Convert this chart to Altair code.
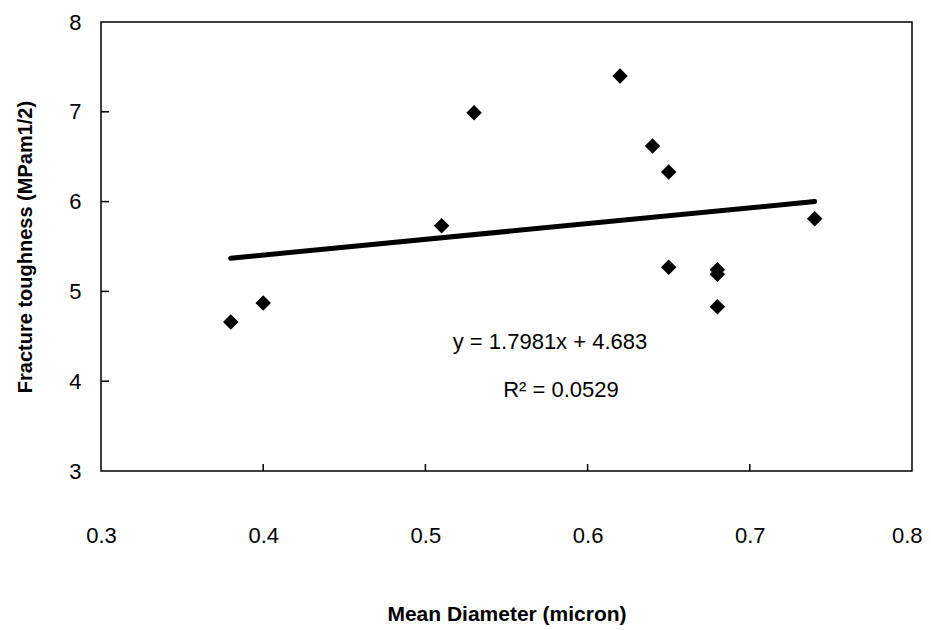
import altair as alt
import pandas as pd

# data
diameter = [0.38, 0.40, 0.51, 0.53, 0.62, 0.64, 0.65, 0.65, 0.68, 0.68, 0.68, 0.74]
toughness = [4.66, 4.87, 5.73, 6.99, 7.40, 6.62, 6.33, 5.27, 5.24, 5.19, 4.83, 5.81]

trend_x = [0.38, 0.74]
trend_y = [5.37, 6.00]

x_ticks = [0.3, 0.4, 0.5, 0.6, 0.7, 0.8]
y_ticks = [3, 4, 5, 6, 7, 8]
x_inner_ticks = [0.4, 0.5, 0.6, 0.7]
y_inner_ticks = [4, 5, 6, 7]

equation_text = "y = 1.7981x + 4.683"
r2_text = "R\u00b2 = 0.0529"

W, H = 811, 449
FONT = "Liberation Sans"

pts = pd.DataFrame({"d": diameter, "t": toughness})
trend = pd.DataFrame({"d": trend_x, "t": trend_y})

xscale = alt.Scale(domain=[0.3, 0.8], nice=False, zero=False)
yscale = alt.Scale(domain=[3, 8], nice=False, zero=False)

xaxis = alt.Axis(
    values=x_ticks, format=".1f", title="Mean Diameter (micron)",
    grid=False, domain=False, ticks=False, tickSize=0,
    labelFlush=False, labelOverlap=False, labelBound=False,
    labelAlign={"expr": "datum.value >= 0.79 ? 'right' : 'center'"},
    labelOffset={"expr": "datum.value >= 0.79 ? 10 : 0"},
    labelPadding=54, labelFontSize=22, labelFont=FONT, labelColor="black",
    titleFontSize=21, titleFont=FONT, titleFontWeight="bold", titleColor="black",
    titleY=143, titleBaseline="middle",
)
yaxis = alt.Axis(
    values=y_ticks, format="d", title="Fracture toughness (MPam1/2)",
    grid=False, domain=False, ticks=False, tickSize=0,
    labelFlush=False, labelOverlap=False,
    labelPadding=20, labelFontSize=22, labelFont=FONT, labelColor="black",
    titleFontSize=20, titleFont=FONT, titleFontWeight="bold", titleColor="black",
    titleX=-76, titleBaseline="middle",
)

points = alt.Chart(pts).mark_point(
    shape="diamond", filled=True, color="black", opacity=1, size=240
).encode(
    x=alt.X("d:Q", scale=xscale, axis=xaxis),
    y=alt.Y("t:Q", scale=yscale, axis=yaxis),
)

line = alt.Chart(trend).mark_line(color="black", strokeWidth=5, strokeCap="round").encode(
    x=alt.X("d:Q", scale=xscale),
    y=alt.Y("t:Q", scale=yscale),
)

xt = alt.Chart(pd.DataFrame({"v": x_inner_ticks})).mark_rule(color="black", strokeWidth=1.5).encode(
    x=alt.X("v:Q", scale=xscale),
    y=alt.value(H),
    y2=alt.value(H - 7),
)
yt = alt.Chart(pd.DataFrame({"v": y_inner_ticks})).mark_rule(color="black", strokeWidth=1.5).encode(
    y=alt.Y("v:Q", scale=yscale),
    x=alt.value(0),
    x2=alt.value(8),
)

eq = alt.Chart(pd.DataFrame({"s": [equation_text]})).mark_text(
    font=FONT, fontSize=22, color="black", align="center", baseline="middle"
).encode(text="s:N", x=alt.value(449), y=alt.value(320))

r2 = alt.Chart(pd.DataFrame({"s": [r2_text]})).mark_text(
    font=FONT, fontSize=22, color="black", align="center", baseline="middle"
).encode(text="s:N", x=alt.value(460), y=alt.value(368))

chart = alt.layer(xt, yt, line, points, eq, r2).properties(
    width=W, height=H,
    autosize=alt.AutoSizeParams(type="none"),
    padding={"left": 93, "top": 14, "right": 11, "bottom": 160},
    background="white",
).configure_view(stroke="black", strokeWidth=1.5)

chart.save("out.html", embed_options={"renderer": "svg", "actions": False})
